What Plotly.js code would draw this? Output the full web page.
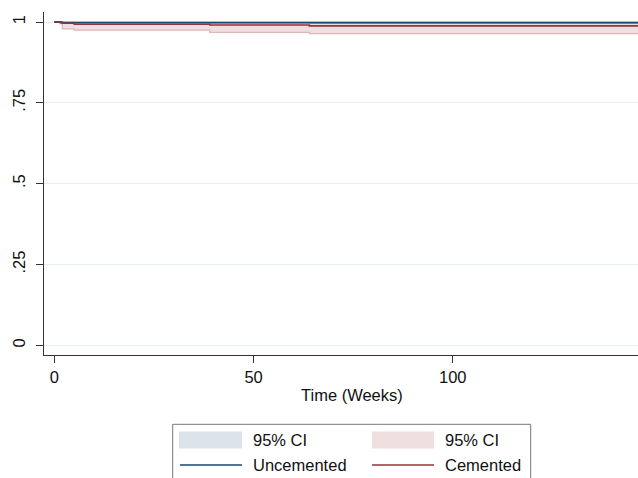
<!DOCTYPE html>
<html>
<head>
<meta charset="utf-8">
<script src="https://cdn.plot.ly/plotly-3.0.1.min.js"></script>
<style>html,body{margin:0;padding:0;background:#fff;}#chart{width:638px;height:478px;}</style>
</head>
<body>
<div id="chart"></div>
<script>
// Kaplan-Meier step data (time in weeks)
const uncemTime  = [0, 1.5, 146.5];
const uncemSurv  = [1, 0.998, 0.998];
const uncemLower = [1, 0.993, 0.993];
const uncemUpper = [1, 1.0, 1.0];

const cemTime  = [0, 2, 5, 39, 64, 146.5];
const cemSurv  = [1, 0.996, 0.993, 0.991, 0.988, 0.988];
const cemLower = [1, 0.979, 0.975, 0.968, 0.964, 0.964];
const cemUpper = [1, 0.999, 0.998, 0.997, 0.996, 0.996];

const xTicks = [0, 50, 100];
const yTicks = [0, 0.25, 0.5, 0.75, 1];
const yTickText = ['0', '.25', '.5', '.75', '1'];

const xTitle = 'Time (Weeks)';
const legendLabels = ['95% CI', '95% CI', 'Uncemented', 'Cemented'];

const navy = '#1a476f', maroon = '#90353b';
const blueFill = '#dde3ea', pinkFill = '#f0dfe0';

const traces = [
  {x: uncemTime, y: uncemLower, mode: 'lines', line: {shape: 'hv', width: 0.8, color: '#c9d2dd'}, showlegend: false, hoverinfo: 'skip'},
  {x: uncemTime, y: uncemUpper, mode: 'lines', fill: 'tonexty', fillcolor: blueFill, line: {shape: 'hv', width: 0.8, color: '#c9d2dd'}, showlegend: false, hoverinfo: 'skip'},
  {x: cemTime, y: cemLower, mode: 'lines', line: {shape: 'hv', width: 1.2, color: '#dcb6b8'}, showlegend: false, hoverinfo: 'skip'},
  {x: cemTime, y: cemUpper, mode: 'lines', fill: 'tonexty', fillcolor: pinkFill, line: {shape: 'hv', width: 1.2, color: '#dcb6b8'}, showlegend: false, hoverinfo: 'skip'},
  {x: uncemTime, y: uncemSurv, mode: 'lines', line: {shape: 'hv', width: 1.8, color: navy}, showlegend: false},
  {x: cemTime, y: cemSurv, mode: 'lines', line: {shape: 'hv', width: 1.6, color: maroon}, showlegend: false}
];

// pixel -> paper helpers for the hand-drawn legend box
const L = 44, T = 12, W = 594, H = 343;
const px = v => (v - L) / W;
const py = v => (T + H - v) / H;

const font = {family: 'Liberation Sans, Arial, Helvetica, sans-serif', size: 16.5, color: '#111'};

const shapes = [
  {type: 'rect', xref: 'paper', yref: 'paper', x0: px(172.7), x1: px(530.7), y0: py(424.3), y1: py(495), line: {color: '#777', width: 1}, fillcolor: 'rgba(0,0,0,0)'},
  {type: 'rect', xref: 'paper', yref: 'paper', x0: px(179), x1: px(242), y0: py(431.5), y1: py(448.5), line: {width: 0}, fillcolor: blueFill},
  {type: 'rect', xref: 'paper', yref: 'paper', x0: px(372), x1: px(434), y0: py(431.5), y1: py(448.5), line: {width: 0}, fillcolor: pinkFill},
  {type: 'line', xref: 'paper', yref: 'paper', x0: px(180), x1: px(242), y0: py(465), y1: py(465), line: {color: navy, width: 1.6}},
  {type: 'line', xref: 'paper', yref: 'paper', x0: px(372), x1: px(434), y0: py(465), y1: py(465), line: {color: maroon, width: 1.6}}
];

const legPos = [[251, 440], [443, 440], [251, 465], [443, 465]];
const annotations = legendLabels.map((t, i) => ({
  text: t, xref: 'paper', yref: 'paper', x: px(legPos[i][0]), y: py(legPos[i][1]),
  xanchor: 'left', yanchor: 'middle', showarrow: false, font: font
}));
annotations.push({
  text: xTitle, xref: 'paper', yref: 'paper', x: px(352), y: py(395),
  xanchor: 'center', yanchor: 'middle', showarrow: false, font: font
});

const layout = {
  width: 638, height: 478,
  margin: {l: L, r: 0, t: T, b: 478 - T - H, pad: 0},
  paper_bgcolor: '#fff', plot_bgcolor: '#fff',
  font: font,
  showlegend: false,
  xaxis: {
    range: [-2.6, 146.5], tickvals: xTicks, ticktext: xTicks.map(String),
    ticks: 'outside', ticklen: 7, tickcolor: '#333', tickwidth: 1,
    showline: true, linecolor: '#333', linewidth: 1, showgrid: false, zeroline: false,
    tickfont: font
  },
  yaxis: {
    range: [-0.030, 1.031], tickvals: yTicks, ticktext: yTickText, tickangle: -90,
    ticks: 'outside', ticklen: 7, tickcolor: '#333', tickwidth: 1, ticklabelstandoff: 4,
    showline: true, linecolor: '#333', linewidth: 1,
    showgrid: true, gridcolor: '#e6eff1', gridwidth: 1, zeroline: false,
    tickfont: font
  },
  shapes: shapes,
  annotations: annotations
};

Plotly.newPlot('chart', traces, layout, {displayModeBar: false, staticPlot: true});
</script>
</body>
</html>
